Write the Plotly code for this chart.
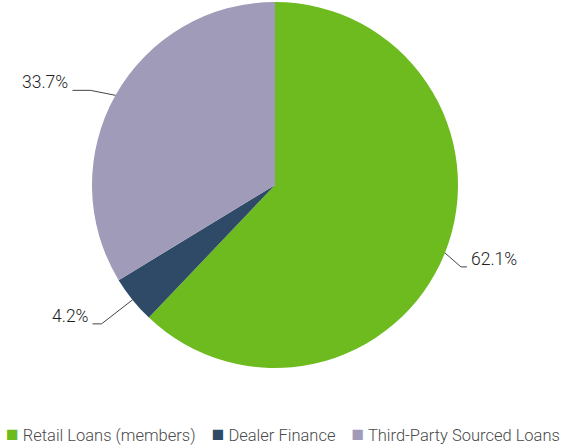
import math
import plotly.graph_objects as go

# Loan portfolio composition
categories = ["Retail Loans (members)", "Dealer Finance", "Third-Party Sourced Loans"]
shares = [62.1, 4.2, 33.7]
colors = ["#6dbb1e", "#2e4a66", "#9f9bb9"]

W, H = 565, 445
CX, CY, R = 275, 185, 183  # pie centre and radius in pixels

fig = go.Figure(go.Pie(
    labels=categories,
    values=shares,
    sort=False,
    direction="clockwise",
    rotation=0,
    textinfo="none",
    hoverinfo="label+percent",
    marker=dict(colors=colors, line=dict(width=0)),
    domain=dict(x=[(CX - R) / W, (CX + R) / W], y=[1 - (CY + R) / H, 1 - (CY - R) / H]),
    showlegend=False,
))

# leader-line geometry per slice: elbow offset from the rim point, horizontal run
elbow = [(16, 14), (-31, 24), (-25, -5)]
run = [6, -9, -18]


def px(x, y):
    return x / W, 1 - y / H


total = sum(shares)
start = 0.0
for val, (ex, ey), dx in zip(shares, elbow, run):
    mid = (start + val / 2) / total * 2 * math.pi
    start += val
    rx = CX + R * math.sin(mid)
    ry = CY - R * math.cos(mid)
    bx, by = rx + ex, ry + ey
    tx = bx + dx
    fig.add_shape(type="path", xref="paper", yref="paper",
                  path="M {} {} L {} {} L {} {}".format(*px(rx, ry), *px(bx, by), *px(tx, by)),
                  line=dict(color="#444444", width=1))
    right = dx > 0
    fig.add_annotation(xref="paper", yref="paper", x=px(tx + (2 if right else -2), 0)[0],
                       y=px(0, by + 4)[1], text=f"{val:.1f}%", showarrow=False,
                       xanchor="left" if right else "right", yanchor="bottom",
                       font=dict(family="Roboto", size=17.5, color="#1e1e1e", weight=300))

# legend row drawn as a single line of text with coloured squares
gap = "&nbsp;" * 4
items = [f"<span style='color:{c};font-size:21px'>■</span> {lab}" for c, lab in zip(colors, categories)]
fig.add_annotation(xref="paper", yref="paper", x=283 / W, y=1 - 434 / H,
                   text=gap.join(items), showarrow=False, xanchor="center", yanchor="middle",
                   font=dict(family="Roboto", size=16.5, color="#4a4a4a", weight=300))

fig.update_layout(width=W, height=H, margin=dict(l=0, r=0, t=0, b=0),
                  paper_bgcolor="white", plot_bgcolor="white")
fig.write_html("out.html")
